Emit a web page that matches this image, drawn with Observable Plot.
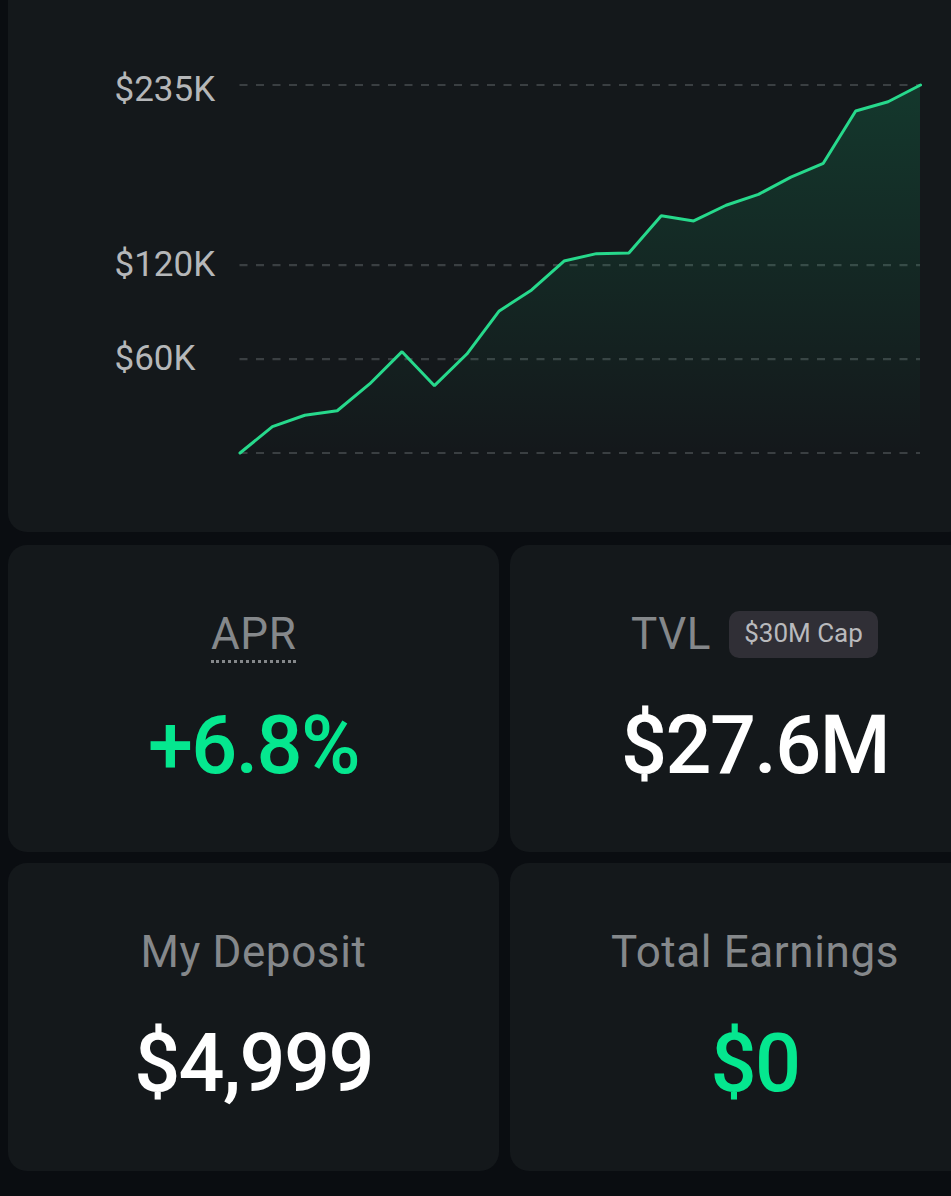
<!DOCTYPE html>
<html><head><meta charset="utf-8">
<script src="https://cdn.jsdelivr.net/npm/d3@7"></script>
<script src="https://cdn.jsdelivr.net/npm/@observablehq/plot@0.6"></script>
<style>
html,body{margin:0;padding:0;background:#0a0d11;width:951px;height:1196px;overflow:hidden;font-family:"Roboto",sans-serif}
.card{position:absolute;background:#14181b;border-radius:19px}
#chart{left:8px;top:-30px;width:960px;height:562px}
#plot{position:absolute;left:0;top:0}
#plot svg{display:block;background:transparent}
.t{position:absolute;left:0;right:0;text-align:center;white-space:nowrap}
.lab{color:#85888b;font-size:44px;line-height:50px;letter-spacing:0.6px}
.val{font-size:81px;line-height:90px;color:#fff;font-weight:500;letter-spacing:-1.6px}
.green{color:#05e78f}
.abs{position:absolute;white-space:nowrap}
</style></head><body>
<div class="card" id="chart"></div>
<div class="card" style="left:8px;top:545px;width:491px;height:307px">
 <div class="abs lab" style="left:203px;top:64px;border-bottom:3px dotted #85888b;height:51px">APR</div>
 <div class="t val green" style="top:156px">+6.8%</div>
</div>
<div class="card" style="left:510px;top:545px;width:490px;height:307px">
 <div class="abs lab" style="left:121px;top:64px">TVL</div>
 <div class="abs" style="left:219px;top:66px;width:149px;height:47px;background:#302f36;border-radius:10px;color:#b9babd;font-size:26px;line-height:44px;text-align:center">$30M Cap</div>
 <div class="t val" style="top:156px">$27.6M</div>
</div>
<div class="card" style="left:8px;top:863px;width:491px;height:308px">
 <div class="t lab" style="top:64px">My Deposit</div>
 <div class="t val" style="top:156px">$4,999</div>
</div>
<div class="card" style="left:510px;top:863px;width:490px;height:308px">
 <div class="t lab" style="top:64px">Total Earnings</div>
 <div class="t val green" style="top:156px">$0</div>
</div>
<div id="plot"></div>
<script>
const steps = d3.range(22);
const values = [0,16.8,24.1,27.0,44.1,64.7,43.0,63.2,90.7,104.1,122.6,127.3,127.7,151.5,148.2,158.2,165.2,176.2,185,218.4,224.3,235];
const gridValues = [0,60,120,235];
const lowerLabels = [60,120];
const topLabels = [235];
const fmt = d => `$${d}K`;
const rows = steps.map((s,i)=>({s,v:values[i]}));
const defs = () => {
  const d = d3.create("svg:defs");
  const g = d.append("linearGradient").attr("id","fade").attr("x1",0).attr("y1",0).attr("x2",0).attr("y2",1);
  g.append("stop").attr("offset","0%").attr("stop-color","#14e08a").attr("stop-opacity",0.16);
  g.append("stop").attr("offset","100%").attr("stop-color","#14e08a").attr("stop-opacity",0);
  return d.node();
};
const chart = Plot.plot({
  width:951,height:532,
  marginLeft:239.5,marginRight:31,marginTop:84.5,marginBottom:79.5,
  style:{background:"transparent",overflow:"visible"},
  x:{axis:null,domain:[0,21]},
  y:{axis:null,domain:[0,235]},
  marks:[
    defs,
    Plot.ruleY(gridValues,{stroke:"#3a3f42",strokeWidth:2.2,strokeDasharray:"8,8.5"}),
    Plot.areaY(rows,{x:"s",y:"v",fill:"url(#fade)"}),
    Plot.lineY(rows,{x:"s",y:"v",stroke:"#27d98c",strokeWidth:3,strokeLinejoin:"miter"}),
    Plot.text(lowerLabels,{y:d=>d,text:fmt,frameAnchor:"left",textAnchor:"start",dx:-125.5,dy:0,fill:"#b5b7b9",fontSize:35,fontFamily:"Roboto"}),
    Plot.text(topLabels,{y:d=>d,text:fmt,frameAnchor:"left",textAnchor:"start",dx:-125.5,dy:5,fill:"#b5b7b9",fontSize:35,fontFamily:"Roboto"})
  ]
});
document.getElementById("plot").append(chart);
</script>
</body></html>
